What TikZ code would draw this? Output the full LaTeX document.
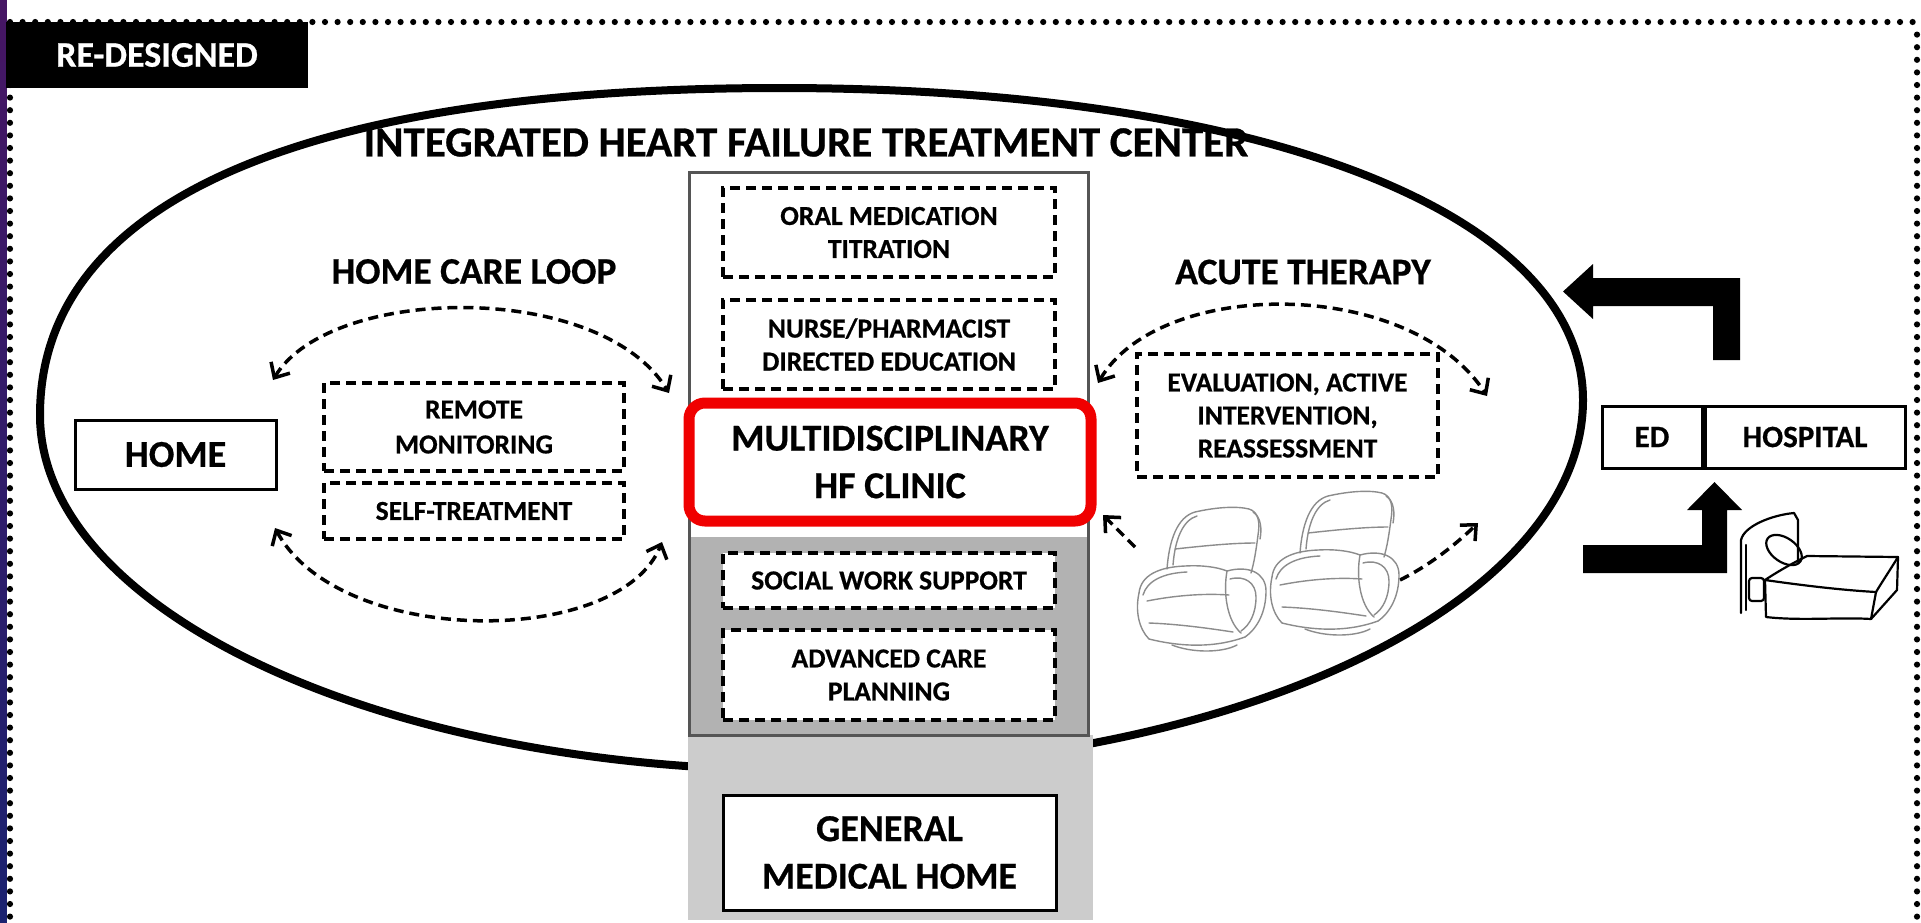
\documentclass[tikz,border=0pt]{standalone}
\usepackage{fontspec}
\setmainfont{Carlito}[BoldFeatures={FakeBold=0.6}]
\usetikzlibrary{arrows.meta}

\definecolor{stripgray}{RGB}{204,204,204}
\definecolor{colgray}{RGB}{178,178,178}
\definecolor{colline}{RGB}{85,85,85}
\definecolor{clinicred}{RGB}{240,0,0}
\definecolor{edgetop}{RGB}{70,22,100}
\definecolor{edgebot}{RGB}{26,34,112}
\definecolor{sketch}{RGB}{140,140,140}

\newcommand\smallfont{\fontsize{27.5}{33}\selectfont\bfseries}
\newcommand\remotefont{\fontsize{27.5}{35}\selectfont\bfseries}
\newcommand\bigfont{\fontsize{38}{47.5}\selectfont\bfseries}
\newcommand\headfont{\fontsize{37.5}{40}\selectfont\bfseries}
\newcommand\titlefont{\fontsize{43}{46}\selectfont\bfseries}
\newcommand\tagfont{\fontsize{36}{38}\selectfont\bfseries}
\newcommand\hospfont{\fontsize{31}{34}\selectfont\bfseries}

% a sketched recliner, local origin at its top-left corner
\newcommand\recliner[2]{%
\begin{scope}[shift={(#1,#2)}, draw=sketch, line width=1.4pt, line cap=round, line join=round]
  % back cushion
  \draw (30,66) .. controls (32,38) and (40,14) .. (58,9) .. controls (80,4) and (100,3) .. (112,6)
        .. controls (122,9) and (123,20) .. (121,32) .. controls (119,48) and (117,60) .. (114,70);
  \draw (36,62) .. controls (38,36) and (46,17) .. (60,13);
  \draw (116,9) .. controls (124,14) and (125,26) .. (123,36);
  \draw (38,46) .. controls (65,43) and (95,40) .. (118,40);
  % left arm roll
  \draw (2,90) .. controls (4,72) and (22,64) .. (48,63) .. controls (65,62) and (80,64) .. (90,68);
  \draw (6,92) .. controls (10,78) and (26,70) .. (50,69);
  \draw (2,90) .. controls (-2,108) and (2,126) .. (12,136);
  % seat
  \draw (10,98) .. controls (35,93) and (65,90) .. (92,92);
  \draw (12,120) .. controls (40,121) and (70,125) .. (96,129);
  % right arm roll
  \draw (90,68) .. controls (112,62) and (129,70) .. (129,88) .. controls (129,108) and (121,125) .. (108,134);
  \draw (93,76) .. controls (108,72) and (119,80) .. (119,94) .. controls (119,110) and (113,122) .. (104,128);
  \draw (90,68) .. controls (86,90) and (90,118) .. (104,130);
  % base
  \draw (12,136) .. controls (40,143) and (75,146) .. (108,134);
  \draw (35,142) .. controls (55,150) and (85,150) .. (100,142);
\end{scope}}

\tikzset{
  framedot/.style={fill=black},
  dbox/.style={draw, dash pattern=on 10pt off 6pt, line width=3.5pt, fill=white,
               align=center, font=\smallfont, inner sep=0, minimum width=332, minimum height=89},
  sbox/.style={draw, line width=3pt, fill=white, align=center, inner sep=0},
  clinic/.style={draw=clinicred, line width=11pt, rounded corners=16pt, fill=white,
                 align=center, font=\bigfont, inner sep=0, minimum width=402, minimum height=118},
  lbl/.style={align=center, inner sep=0},
  barb/.style={arrows={Straight Barb[length=12pt,width=22pt]-Straight Barb[length=12pt,width=22pt]}},
  darr/.style={dash pattern=on 10pt off 6pt, line width=3.5pt, barb},
  sarr/.style={dash pattern=on 10pt off 6pt, line width=3.5pt,
               arrows={-Straight Barb[length=12pt,width=22pt]}},
  bedline/.style={line width=2.2pt, line cap=round, line join=round},
}

\begin{document}
\begin{tikzpicture}[x=1pt, y=-1pt]
\useasboundingbox (0,0) rectangle (1921,922);
\fill[white] (0,0) rectangle (1921,922);

% coloured edge on the left, purple fading to navy
\fill[edgetop] (0,0) rectangle (7,461);
\fill[edgebot] (0,461) rectangle (7,922);
\foreach \k in {0,...,45} {
  \pgfmathtruncatemacro\pct{\k*100/45}
  \fill[edgebot!\pct!edgetop] (0,{\k*20.5}) rectangle (7,{\k*20.5+21});
}

% dotted frame
\foreach \i in {0,...,151} \fill[framedot] ({10+\i*12.6},22) circle (3.1);
\foreach \i in {1,...,72} {
  \fill[framedot] (10,{22+\i*12.6}) circle (3.1);
  \fill[framedot] (1917,{22+\i*12.6}) circle (3.1);
}

% heading tag
\node[fill=black, text=white, font=\tagfont, minimum width=302, minimum height=66, inner sep=0] (tag) at (157,55) {RE-DESIGNED};

% the treatment-center oval
\draw[line width=8pt] (40,415) .. controls (40,202) and (300,88) .. (780,88)
   .. controls (1262,88) and (1583,213) .. (1583,400)
   .. controls (1583,604) and (1232,770) .. (800,770)
   .. controls (381,770) and (40,611) .. cycle;

% central column
\fill[stripgray] (688,735) rectangle (1093,920);
\node[draw=colline, line width=3pt, fill=white, minimum width=399, minimum height=563, inner sep=0] (col) at (888.5,453.5) {};
\fill[colgray] (690.5,537) rectangle (1086.5,733.5);

\node[dbox] (oral) at (889,232.5) {ORAL MEDICATION\\TITRATION};
\node[dbox] (nurse) at (889,344.5) {NURSE/PHARMACIST\\DIRECTED EDUCATION};
\node[dbox, minimum height=55] (social) at (889,580.5) {SOCIAL WORK SUPPORT};
\node[dbox, minimum height=90] (adv) at (889,675) {ADVANCED CARE\\PLANNING};
\node[sbox, font=\bigfont, minimum width=333, minimum height=115] (gmh) at (889.5,852.5) {GENERAL\\MEDICAL HOME};
\node[clinic] (hf) at (890,462) {MULTIDISCIPLINARY\\HF CLINIC};

% titles
\node[lbl, font=\titlefont] (title) at (806,142.5) {INTEGRATED HEART FAILURE TREATMENT CENTER};
\node[lbl, font=\headfont] (hcl) at (474,271.5) {HOME CARE LOOP};
\node[lbl, font=\headfont] (acute) at (1303,272) {ACUTE THERAPY};

% home care side
\node[sbox, font=\bigfont, minimum width=201, minimum height=69] (home) at (175.5,454.5) {HOME};
\node[dbox, font=\remotefont, minimum width=300, minimum height=88] (remote) at (474,427) {REMOTE\\MONITORING};
\node[dbox, minimum width=300, minimum height=56] (self) at (474,511) {SELF-TREATMENT};

% acute side
\node[dbox, minimum width=301, minimum height=123] (eval) at (1287.5,415.5) {EVALUATION, ACTIVE\\INTERVENTION,\\REASSESSMENT};

% ED / hospital
\node[sbox, font=\hospfont, minimum width=100, minimum height=62] (ed) at (1652,437) {ED};
\node[sbox, font=\hospfont, minimum width=200, minimum height=62, anchor=west] (hosp) at (ed.east) {HOSPITAL};

% loop connectors
\coordinate (ht1) at (273,380);
\coordinate (ht2) at (669,393);
\coordinate (hb1) at (275,528);
\coordinate (hb2) at (662,542);
\coordinate (at1) at (1098,383);
\coordinate (at2) at (1487,396);
\coordinate (c1s) at (1135,547);
\coordinate (c1e) at (1103,515);
\coordinate (c2s) at (1400,580);
\coordinate (c2e) at (1478,523);

\draw[darr] (ht1) .. controls (330,285) and (600,280) .. (ht2);
\draw[darr] (hb1) .. controls (340,648) and (620,648) .. (hb2);
\draw[darr] (at1) .. controls (1160,277) and (1410,277) .. (at2);
\draw[sarr] (c1s) -- (c1e);
\draw[sarr] (c2s) .. controls (1430,565) and (1455,545) .. (c2e);

% block arrows to and from the hospital
\fill[black] (1740,360) -- (1740,278) -- (1593,278) -- (1593,264) -- (1563,291.5)
   -- (1593,319) -- (1593,306) -- (1713,306) -- (1713,360) -- cycle;
\fill[black] (1583,545) -- (1702,545) -- (1702,510) -- (1687,510) -- (1714.5,482)
   -- (1742,510) -- (1727,510) -- (1727,573) -- (1583,573) -- cycle;

% recliners
\recliner{1137}{503}
\recliner{1270}{487}

% hospital bed
\draw[bedline] (1741,613) -- (1741,540) .. controls (1744,526) and (1772,515) .. (1794,513) -- (1798,520) -- (1798,562);
\draw[bedline] (1746,610) -- (1746,545);
\draw[bedline, rotate around={-35:(1784,550)}] (1784,550) ellipse (20 and 12);
\draw[bedline] (1765,580) .. controls (1780,570) and (1795,562) .. (1807,556) -- (1898,557)
   .. controls (1890,570) and (1882,582) .. (1876,592) .. controls (1840,590) and (1800,585) .. cycle;
\draw[bedline] (1765,580) -- (1766,617) .. controls (1800,621) and (1840,617) .. (1871,619) -- (1876,592);
\draw[bedline] (1898,557) -- (1897,590) -- (1871,619);
\draw[bedline, rounded corners=3pt] (1749,578) rectangle (1764,601);
\end{tikzpicture}
\end{document}
